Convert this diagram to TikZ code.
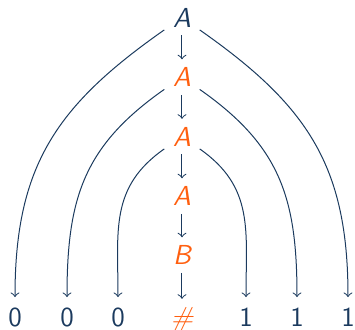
\documentclass[tikz,border=0pt]{standalone}
\usepackage{fontspec}
\definecolor{navy}{HTML}{1B3A5E}
\definecolor{orng}{HTML}{FF5F0F}
\begin{document}
\begin{tikzpicture}[x=0.4pt,y=-0.4pt,
  font=\sffamily\fontsize{11}{13}\selectfont,
  sym/.style={inner xsep=3.33pt, inner ysep=3.8pt, text height=7.6pt, text depth=0pt},
  nav/.style={sym, text=navy},
  org/.style={sym, text=orng},
  conn/.style={->, draw=navy, line width=0.4pt},
  vconn/.style={conn, shorten <=-0.7pt, shorten >=-0.7pt}]
\useasboundingbox (0,0) rectangle (355,329);
\node[nav] (a0) at (182,17.5) {\itshape A};
\node[org] (a1) at (182,77) {\itshape A};
\node[org] (a2) at (182,136.5) {\itshape A};
\node[org] (a3) at (182,196) {\itshape A};
\node[org] (b)  at (182,255) {\itshape B};
\node[org] (h)  at (182,316.5) {\itshape\#};
\node[nav] (z1) at (15,316.5) {0};
\node[nav] (z2) at (67,316.5) {0};
\node[nav] (z3) at (118,316.5) {0};
\node[nav] (o1) at (246,316.5) {1};
\node[nav] (o2) at (297,316.5) {1};
\node[nav] (o3) at (348,316.5) {1};
\draw[vconn] (a0) -- (a1);
\draw[vconn] (a1) -- (a2);
\draw[vconn] (a2) -- (a3);
\draw[vconn] (a3) -- (b);
\draw[vconn] (b) -- (h);
\draw[conn] (a0) to[out=-145, in=90, looseness=1.1] (z1);
\draw[conn] (a1) to[out=-145, in=90, looseness=1.1] (z2);
\draw[conn] (a2) to[out=-145, in=90, looseness=1.1] (z3);
\draw[conn] (a0) to[out=-35, in=90, looseness=1.1] (o3);
\draw[conn] (a1) to[out=-35, in=90, looseness=1.1] (o2);
\draw[conn] (a2) to[out=-35, in=90, looseness=1.1] (o1);
\end{tikzpicture}
\end{document}
